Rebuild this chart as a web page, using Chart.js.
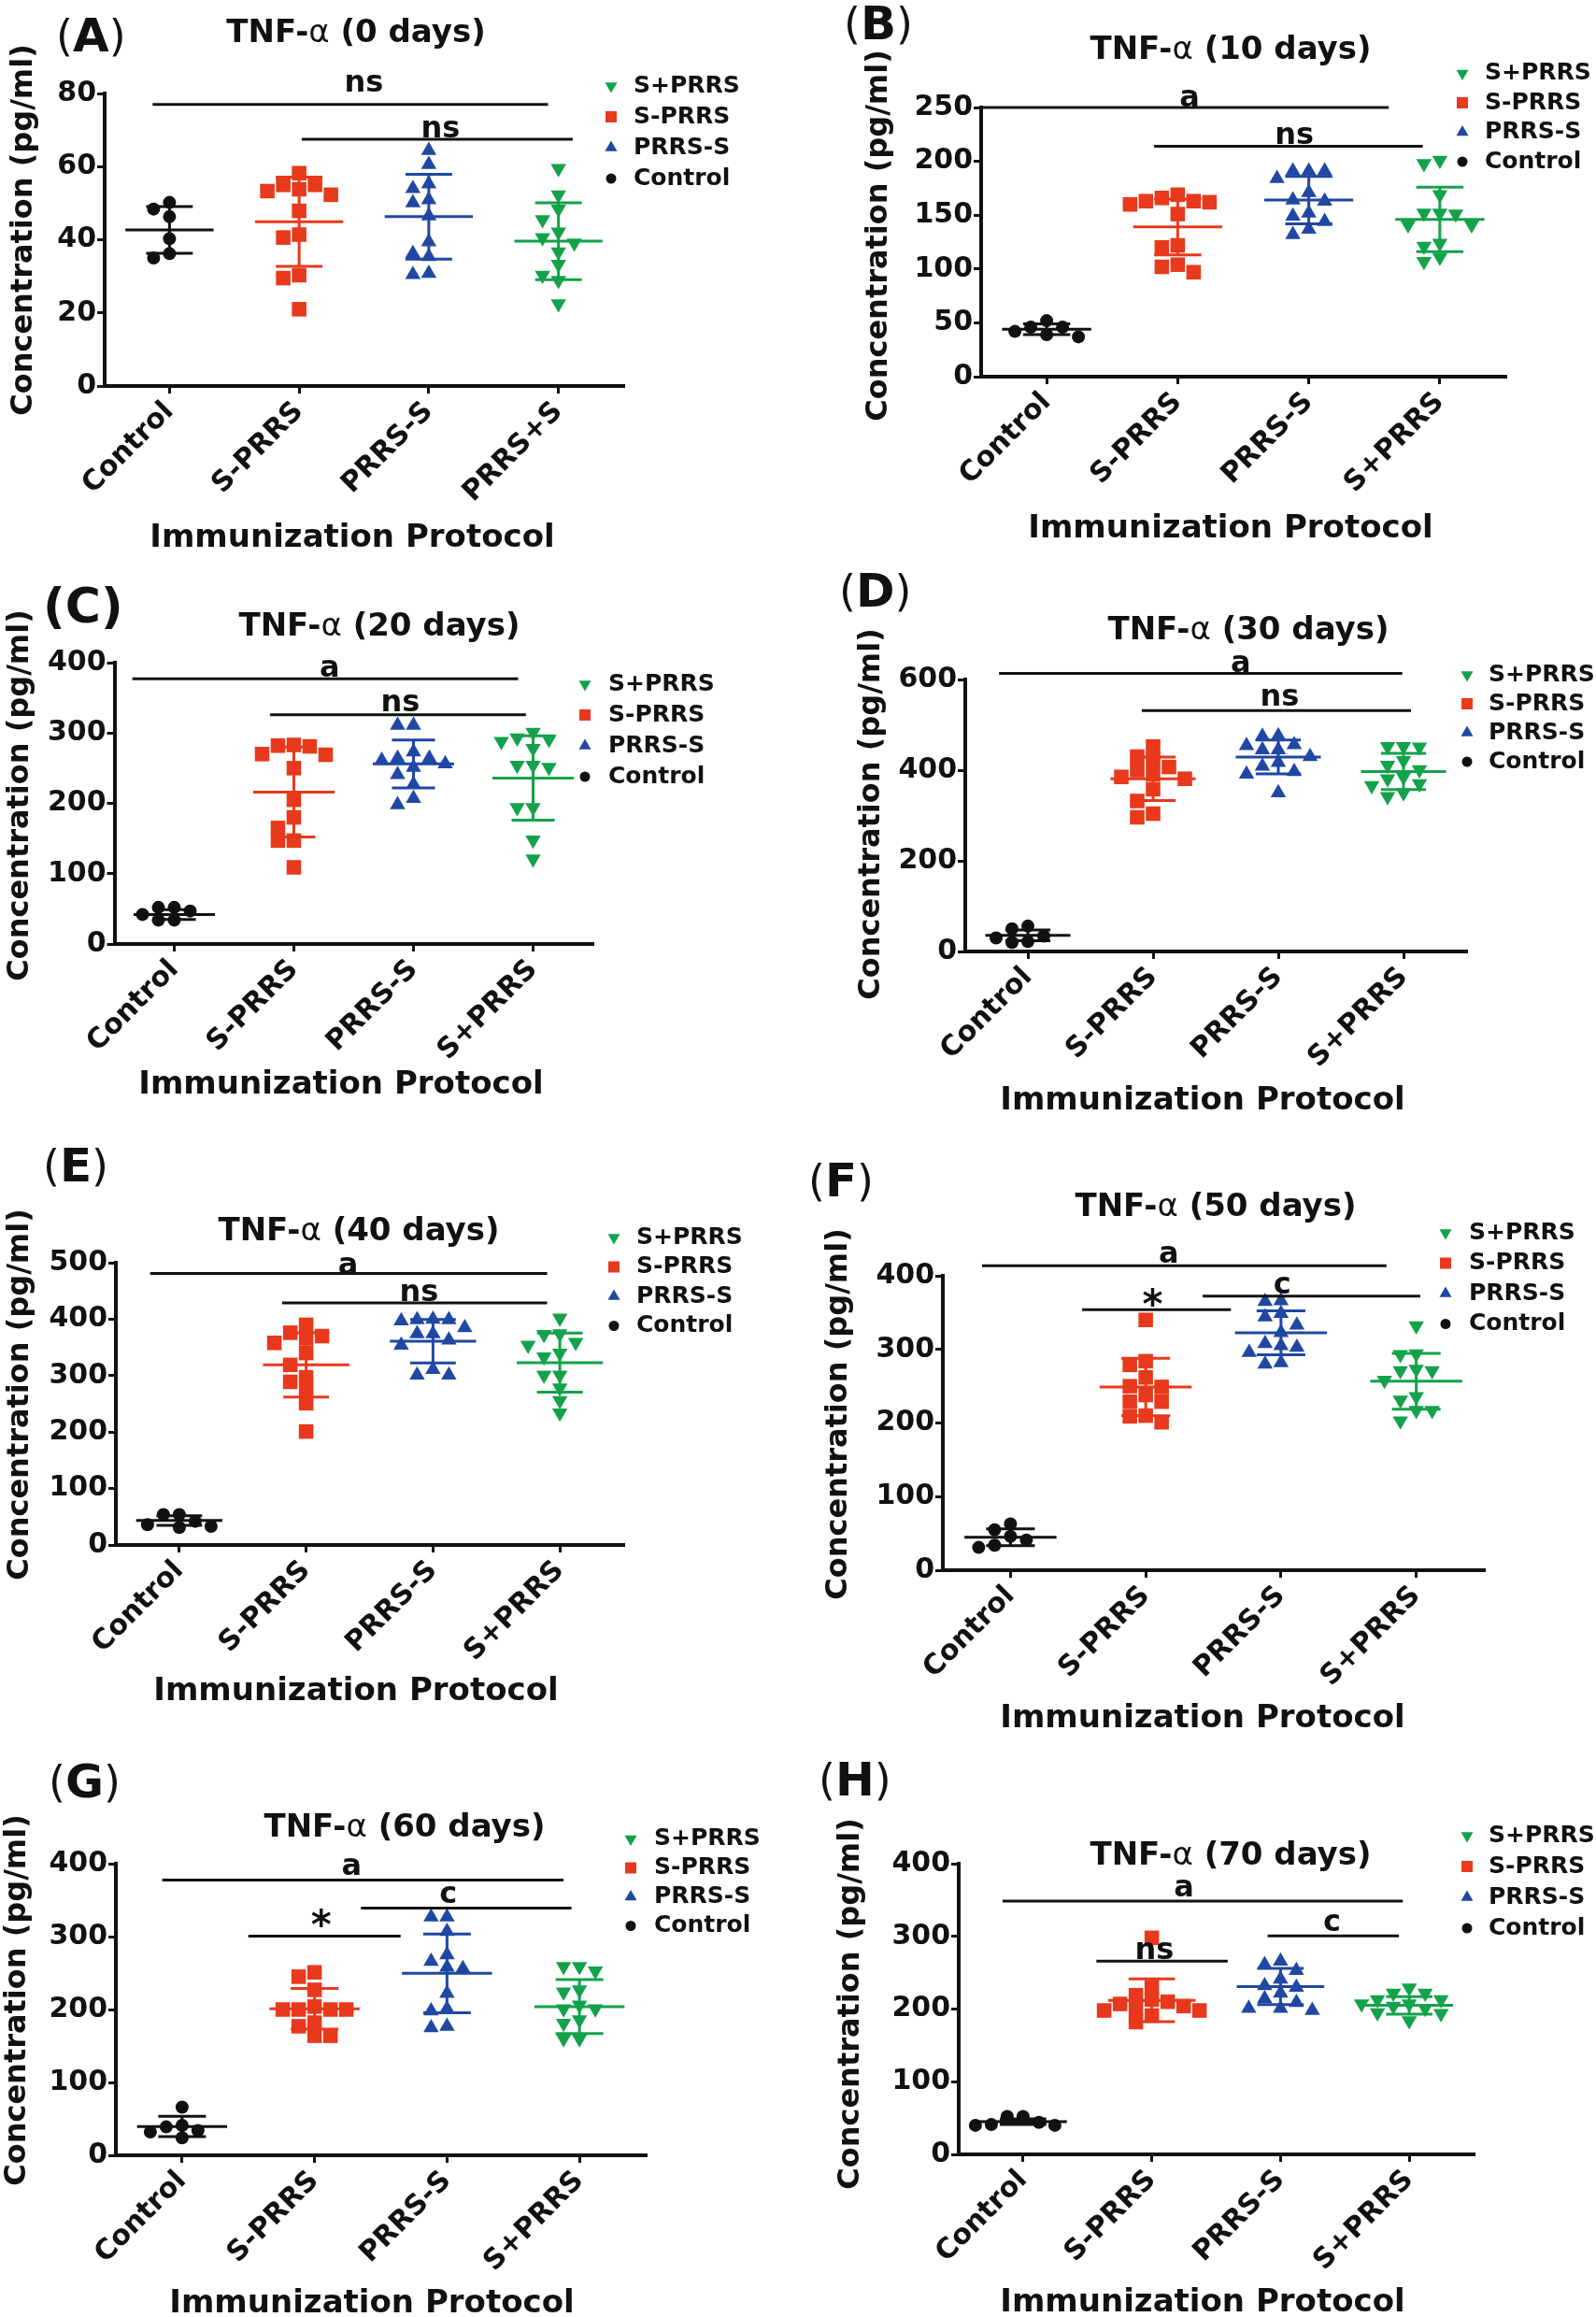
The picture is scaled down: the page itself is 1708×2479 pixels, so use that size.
<!DOCTYPE html>
<html><head><meta charset="utf-8">
<script src="https://cdn.jsdelivr.net/npm/chart.js@4.4.1/dist/chart.umd.min.js"></script>
<style>
html,body{margin:0;padding:0;background:#fff;}
#page{position:relative;width:1708px;height:2479px;overflow:hidden;background:#fff;}
canvas{position:absolute;}
</style></head><body><div id="page"></div>
<script>
// ---------------- DATA ----------------
const groups = ['Control', 'S-PRRS', 'PRRS-S', 'S+PRRS'];
const xLabelsA = ['Control', 'S-PRRS', 'PRRS-S', 'PRRS+S'];
const xLabels = ['Control', 'S-PRRS', 'PRRS-S', 'S+PRRS'];
const legendOrder = [3, 1, 2, 0];
const days = [0, 10, 20, 30, 40, 50, 60, 70];
const letters = ['A', 'B', 'C', 'D', 'E', 'F', 'G', 'H'];
const yMaxes = [80, 250, 400, 600, 500, 400, 400, 400];
const ySteps = [20, 50, 100, 200, 100, 100, 100, 100];

const day0_control = [50.2, 48.4, 46.3, 40.3, 36.2, 35.0];
const day0_sPRRS = [58.2, 55.0, 55.0, 53.8, 53.3, 52.3, 47.9, 41.4, 40.6, 30.3, 29.5, 21.0];
const day0_PRRSs = [64.4, 60.6, 55.3, 54.0, 50.9, 50.1, 46.5, 39.4, 36.2, 35.4, 30.8, 30.5];
const day0_sPlusPRRS = [59.5, 52.3, 48.4, 45.5, 42.1, 40.6, 39.1, 36.7, 33.3, 30.3, 28.9, 22.5];
const day0_mean = [42.7, 44.9, 46.3, 39.6];
const day0_sd = [6.4, 12.2, 11.6, 10.5];

const day10_control = [46, 52, 46, 39, 37, 42];
const day10_sPRRS = [169, 166, 163, 163, 162, 160, 151, 122, 120, 104, 102, 97];
const day10_PRRSs = [191, 191, 191, 184, 171, 164, 163, 152, 149, 144, 137, 132];
const day10_sPlusPRRS = [201, 198, 169, 152, 152, 151, 141, 141, 124, 121, 111, 107];
const day10_mean = [44, 139, 164, 146];
const day10_sd = [5, 26, 22, 30];

const day20_control = [52, 52, 47, 42, 34, 34];
const day20_sPRRS = [283, 282, 281, 270, 269, 250, 205, 180, 165, 147, 147, 109];
const day20_PRRSs = [311, 311, 273, 264, 264, 261, 256, 251, 241, 227, 207, 198];
const day20_sPlusPRRS = [301, 293, 291, 288, 278, 254, 254, 251, 194, 194, 148, 121];
const day20_mean = [42, 216, 256, 236];
const day20_sd = [7, 64, 34, 60];

const day30_control = [56, 50, 34, 30, 22, 20];
const day30_sPRRS = [452, 430, 422, 407, 400, 391, 385, 381, 358, 332, 304, 296];
const day30_PRRSs = [476, 475, 456, 454, 445, 445, 430, 417, 409, 397, 391, 350];
const day30_sPlusPRRS = [452, 452, 451, 421, 411, 401, 385, 381, 370, 366, 350, 342];
const day30_mean = [35.5, 381, 429, 397];
const day30_sd = [12, 48, 37.5, 40];

const day40_control = [54, 54, 42, 36, 33, 31];
const day40_sPRRS = [390, 376, 370, 366, 358, 340, 319, 297, 289, 273, 251, 201];
const day40_PRRSs = [400, 399, 399, 397, 385, 374, 374, 363, 354, 311, 301, 301];
const day40_sPlusPRRS = [402, 374, 373, 359, 354, 340, 333, 301, 301, 278, 256, 234];
const day40_mean = [43.3, 319, 361, 323];
const day40_sd = [8.6, 57, 38.5, 52.5];

const day50_control = [63, 55, 46, 41, 34, 31];
const day50_sPRRS = [340, 284, 279, 262, 250, 249, 238, 229, 229, 210, 209, 201];
const day50_PRRSs = [366, 365, 349, 344, 333, 323, 308, 305, 303, 296, 282, 280];
const day50_sPlusPRRS = [332, 294, 293, 273, 271, 271, 258, 236, 231, 217, 217, 203];
const day50_mean = [44.8, 249, 322.5, 256.7];
const day50_sd = [11.4, 39, 29.8, 38];

const day60_control = [66, 41, 39, 34, 32, 24];
const day60_sPRRS = [251, 245, 227, 204, 200, 200, 200, 200, 182, 177, 164, 164];
const day60_PRRSs = [327, 327, 307, 275, 266, 258, 256, 222, 201, 198, 177, 175];
const day60_sPlusPRRS = [259, 259, 253, 227, 224, 206, 201, 201, 186, 181, 160, 160];
const day60_mean = [39.5, 201, 249.6, 204];
const day60_sd = [14, 28, 54, 37];

const day70_control = [52, 52, 44, 41, 40, 40];
const day70_sPRRS = [298, 230, 219, 213, 210, 207, 204, 200, 198, 198, 191, 182];
const day70_PRRSs = [266, 261, 253, 241, 232, 230, 222, 214, 209, 201, 201, 198];
const day70_sPlusPRRS = [229, 222, 222, 213, 213, 207, 207, 204, 201, 195, 194, 184];
const day70_mean = [45, 212, 231, 205];
const day70_sd = [4, 29.5, 25, 12];

// significance bars: y value, start/end (category index units), text
const sigA = [{y: 77, x1: -0.13, x2: 2.92, tx: 1.50, t: 'ns', gap: 12}, {y: 67.5, x1: 1.02, x2: 3.11, tx: 2.09, t: 'ns', gap: 0}];
const sigB = [{y: 250, x1: -0.5, x2: 2.61, tx: 1.09, t: 'a', gap: 0}, {y: 214, x1: 0.82, x2: 2.87, tx: 1.89, t: 'ns', gap: 1}];
const sigC = [{y: 377, x1: -0.35, x2: 2.875, tx: 1.30, t: 'a', gap: 1}, {y: 326, x1: 0.80, x2: 2.94, tx: 1.89, t: 'ns', gap: 2}];
const sigD = [{y: 613.6, x1: -0.23, x2: 2.99, tx: 1.70, t: 'a', gap: 0}, {y: 531.7, x1: 0.91, x2: 3.06, tx: 2.01, t: 'ns', gap: 4}];
const sigE = [{y: 481, x1: -0.23, x2: 2.90, tx: 1.33, t: 'a', gap: -2}, {y: 429, x1: 0.81, x2: 2.90, tx: 1.89, t: 'ns', gap: 0}];
const sigF = [{y: 413.6, x1: -0.21, x2: 2.78, tx: 1.17, t: 'a', gap: 2}, {y: 354, x1: 0.53, x2: 1.63, tx: 1.05, t: '*', gap: 2}, {y: 372.4, x1: 1.42, x2: 3.03, tx: 2.01, t: 'c', gap: 1}];
const sigG = [{y: 377.6, x1: -0.15, x2: 2.88, tx: 1.28, t: 'a', gap: 4}, {y: 300.6, x1: 0.50, x2: 1.65, tx: 1.05, t: '*', gap: 8}, {y: 339, x1: 1.35, x2: 2.94, tx: 2.01, t: 'c', gap: 4}];
const sigH = [{y: 348.5, x1: -0.16, x2: 2.95, tx: 1.25, t: 'a', gap: 4}, {y: 266, x1: 0.57, x2: 1.59, tx: 1.02, t: 'ns', gap: 1}, {y: 300.5, x1: 1.90, x2: 2.92, tx: 2.40, t: 'c', gap: 4}];

// ---------------- STYLE / LAYOUT ----------------
const COLORS = ['#111111', '#e8391c', '#1f47a3', '#13a24b'];
const POINT_STYLE = ['circle', 'rect', 'triangle', 'triangle'];
const POINT_ROT = [0, 0, 0, 180];
const POINT_R = [7, 11, 9.5, 9.5];
const FONT = '"DejaVu Sans", "Liberation Sans", sans-serif';
Chart.defaults.font.family = FONT;

const layouts = [
  {cx: 0, cy: 0, cw: 854, ch: 600, l: 112, r: 667, t: 100, b: 413, title: [381, 36], label: [60, 42], yTitle: [26, 246], xTitle: [377, 576], legend: [654, 678, 92, 33]},
  {cx: 854, cy: 0, cw: 854, ch: 600, l: 1050, r: 1611, t: 115, b: 403, title: [1317, 54], label: [903, 29], yTitle: [941, 252], xTitle: [1317, 566], legend: [1565, 1589, 78.5, 31.5]},
  {cx: 0, cy: 600, cw: 854, ch: 600, l: 122.5, r: 634.5, t: 709, b: 1010, title: [406, 671], label: [46, 652], yTitle: [22, 851], xTitle: [365, 1161], legend: [626, 651, 732, 33], boldParens: true},
  {cx: 854, cy: 600, cw: 854, ch: 600, l: 1033, r: 1569, t: 727, b: 1018, title: [1336, 675], label: [898, 636], yTitle: [933, 871], xTitle: [1287, 1178], legend: [1570, 1593, 722, 31]},
  {cx: 0, cy: 1200, cw: 854, ch: 650, l: 124, r: 667, t: 1351, b: 1653, title: [384, 1318], label: [46, 1251], yTitle: [22, 1492], xTitle: [381, 1810], legend: [657, 681, 1324, 31.5]},
  {cx: 854, cy: 1200, cw: 854, ch: 670, l: 1009, r: 1588, t: 1365, b: 1680, title: [1301, 1292], label: [865, 1267], yTitle: [898, 1513], xTitle: [1287, 1839], legend: [1547, 1572, 1319, 32.5]},
  {cx: 0, cy: 1850, cw: 854, ch: 629, l: 124, r: 691, t: 1994, b: 2306, title: [433, 1956], label: [52, 1910], yTitle: [19, 2140], xTitle: [398, 2465], legend: [675, 700, 1967.5, 31]},
  {cx: 854, cy: 1850, cw: 854, ch: 629, l: 1026, r: 1577, t: 1994, b: 2305, title: [1317, 1986], label: [876, 1908], yTitle: [911, 2144], xTitle: [1287, 2464], legend: [1570, 1593, 1964, 33]}
];

const panels = [
  {values: [day0_control, day0_sPRRS, day0_PRRSs, day0_sPlusPRRS], mean: day0_mean, sd: day0_sd, sig: sigA, xl: xLabelsA},
  {values: [day10_control, day10_sPRRS, day10_PRRSs, day10_sPlusPRRS], mean: day10_mean, sd: day10_sd, sig: sigB, xl: xLabels},
  {values: [day20_control, day20_sPRRS, day20_PRRSs, day20_sPlusPRRS], mean: day20_mean, sd: day20_sd, sig: sigC, xl: xLabels},
  {values: [day30_control, day30_sPRRS, day30_PRRSs, day30_sPlusPRRS], mean: day30_mean, sd: day30_sd, sig: sigD, xl: xLabels},
  {values: [day40_control, day40_sPRRS, day40_PRRSs, day40_sPlusPRRS], mean: day40_mean, sd: day40_sd, sig: sigE, xl: xLabels},
  {values: [day50_control, day50_sPRRS, day50_PRRSs, day50_sPlusPRRS], mean: day50_mean, sd: day50_sd, sig: sigF, xl: xLabels},
  {values: [day60_control, day60_sPRRS, day60_PRRSs, day60_sPlusPRRS], mean: day60_mean, sd: day60_sd, sig: sigG, xl: xLabels},
  {values: [day70_control, day70_sPRRS, day70_PRRSs, day70_sPlusPRRS], mean: day70_mean, sd: day70_sd, sig: sigH, xl: xLabels}
];

// column-scatter spreading (like GraphPad): points that overlap vertically are moved sideways
function swarmOffsets(values, pxPerUnit, stepIdx) {
  const order = values.map((v, i) => i).sort((a, b) => values[b] - values[a]);
  const placed = [];
  const off = new Array(values.length).fill(0);
  for (const i of order) {
    const y = values[i] * pxPerUnit;
    for (let k = 0; k < 15; k++) {
      const slot = k === 0 ? 0 : (k % 2 === 1 ? -(k + 1) / 2 : k / 2);
      if (!placed.some(p => p.s === slot && Math.abs(p.y - y) < 13)) {
        placed.push({s: slot, y});
        off[i] = slot * stepIdx;
        break;
      }
    }
  }
  return off;
}

function marker(ctx, style, x, y, r, rot, color) {
  ctx.fillStyle = color;
  ctx.beginPath();
  if (style === 'circle') ctx.arc(x, y, r, 0, Math.PI * 2);
  else if (style === 'rect') ctx.rect(x - r, y - r, 2 * r, 2 * r);
  else {
    const d = rot ? 1 : -1;
    ctx.moveTo(x, y + d * r);
    ctx.lineTo(x - r * 0.87, y - d * r * 0.5);
    ctx.lineTo(x + r * 0.87, y - d * r * 0.5);
    ctx.closePath();
  }
  ctx.fill();
}

function drawSegments(ctx, parts, cx, y) {
  let total = 0;
  const widths = parts.map(p => { ctx.font = p[1]; const w = ctx.measureText(p[0]).width; total += w; return w; });
  let x = cx - total / 2;
  ctx.textAlign = 'left';
  ctx.textBaseline = 'middle';
  parts.forEach((p, i) => { ctx.font = p[1]; ctx.fillText(p[0], x, y); x += widths[i]; });
}

function makeDecor(idx) {
  const L = layouts[idx], P = panels[idx];
  const X = v => v - L.cx, Y = v => v - L.cy;
  return {
    id: 'decor' + idx,
    afterDatasetsDraw(chart) {
      const ctx = chart.ctx, xs = chart.scales.x, ys = chart.scales.y;
      const cat = xs.getPixelForValue(1) - xs.getPixelForValue(0);
      ctx.save();
      ctx.lineWidth = 3;
      ctx.lineCap = 'butt';
      for (let i = 0; i < 4; i++) {
        const cx = xs.getPixelForValue(i);
        const ym = ys.getPixelForValue(P.mean[i]);
        const yh = ys.getPixelForValue(P.mean[i] + P.sd[i]);
        const yl = ys.getPixelForValue(P.mean[i] - P.sd[i]);
        ctx.strokeStyle = COLORS[i];
        ctx.beginPath();
        ctx.moveTo(cx - 0.34 * cat, ym); ctx.lineTo(cx + 0.34 * cat, ym);
        ctx.moveTo(cx, yh); ctx.lineTo(cx, yl);
        ctx.moveTo(cx - 0.18 * cat, yh); ctx.lineTo(cx + 0.18 * cat, yh);
        ctx.moveTo(cx - 0.18 * cat, yl); ctx.lineTo(cx + 0.18 * cat, yl);
        ctx.stroke();
      }
      ctx.restore();
    },
    afterDraw(chart) {
      const ctx = chart.ctx, xs = chart.scales.x, ys = chart.scales.y;
      ctx.save();
      ctx.fillStyle = '#111';
      ctx.strokeStyle = '#111';
      // significance bars
      ctx.lineWidth = 3;
      P.sig.forEach(s => {
        const yy = ys.getPixelForValue(s.y);
        ctx.beginPath();
        ctx.moveTo(xs.getPixelForValue(s.x1), yy);
        ctx.lineTo(xs.getPixelForValue(s.x2), yy);
        ctx.stroke();
        const size = s.t === '*' ? 42 : 32;
        ctx.font = `bold ${size}px ${FONT}`;
        ctx.textAlign = 'center';
        ctx.textBaseline = 'alphabetic';
        const m = ctx.measureText(s.t);
        const base = yy - 1.5 - s.gap - m.actualBoundingBoxDescent;
        ctx.fillText(s.t, xs.getPixelForValue(s.tx), base);
      });
      // title
      drawSegments(ctx, [['TNF-', `bold 34px ${FONT}`], ['α', `normal 34px ${FONT}`], [` (${days[idx]} days)`, `bold 34px ${FONT}`]], X(L.title[0]), Y(L.title[1]));
      // panel label
      {
        const pf = L.boldParens ? `bold 52px ${FONT}` : `normal 46px ${FONT}`;
        const lf = L.boldParens ? `bold 52px ${FONT}` : `bold 50px ${FONT}`;
        const parts = [['(', pf], [letters[idx], lf], [')', pf]];
        let w = 0; parts.forEach(p => { ctx.font = p[1]; w += ctx.measureText(p[0]).width; });
        drawSegments(ctx, parts, X(L.label[0]) + w / 2, Y(L.label[1]));
      }
      // axis titles
      ctx.font = `bold 32px ${FONT}`;
      ctx.textAlign = 'center';
      ctx.textBaseline = 'middle';
      ctx.save();
      ctx.translate(X(L.yTitle[0]), Y(L.yTitle[1]));
      ctx.rotate(-Math.PI / 2);
      ctx.fillText('Concentration (pg/ml)', 0, 0);
      ctx.restore();
      ctx.font = `bold 34px ${FONT}`;
      ctx.fillText('Immunization Protocol', X(L.xTitle[0]), Y(L.xTitle[1]));
      // legend
      const [mx, tx, y0, dy] = L.legend;
      ctx.font = `bold 25px ${FONT}`;
      ctx.textAlign = 'left';
      legendOrder.forEach((gi, k) => {
        const yy = Y(y0 + k * dy);
        const st = POINT_STYLE[gi];
        const r = st === 'circle' ? 5.5 : (st === 'rect' ? 6 : 7.5);
        marker(ctx, st, X(mx), yy, r, POINT_ROT[gi], COLORS[gi]);
        ctx.fillStyle = '#111';
        ctx.fillText(chart.data.datasets[gi].label, X(tx), yy);
      });
      ctx.restore();
    }
  };
}

const page = document.getElementById('page');
panels.forEach((P, idx) => {
  const L = layouts[idx];
  const cv = document.createElement('canvas');
  cv.width = L.cw; cv.height = L.ch;
  cv.style.left = L.cx + 'px'; cv.style.top = L.cy + 'px';
  cv.style.width = L.cw + 'px'; cv.style.height = L.ch + 'px';
  page.appendChild(cv);
  const yMax = yMaxes[idx];
  const pxPerUnit = (L.b - L.t) / yMax;
  const catPx = (L.r - L.l) / 4;
  const stepIdx = 17 / catPx;
  const datasets = P.values.map((vals, gi) => {
    const off = swarmOffsets(vals, pxPerUnit, stepIdx);
    return {
      label: groups[gi],
      data: vals.map((v, j) => ({x: gi + off[j], y: v})),
      pointStyle: POINT_STYLE[gi],
      pointRotation: POINT_ROT[gi],
      pointRadius: POINT_R[gi],
      backgroundColor: COLORS[gi],
      borderColor: COLORS[gi],
      borderWidth: 0,
      clip: false
    };
  });
  const axisCommon = {
    grid: {display: true, drawOnChartArea: false, drawTicks: true, tickLength: 8, lineWidth: 3, color: '#111'},
    border: {display: true, width: 4, color: '#111'}
  };
  new Chart(cv, {
    type: 'scatter',
    data: {datasets},
    options: {
      responsive: false,
      animation: false,
      events: [],
      layout: {padding: {left: 0, top: L.t - L.cy, right: L.cx + L.cw - L.r, bottom: 0}},
      plugins: {legend: {display: false}, tooltip: {enabled: false}, title: {display: false}},
      scales: {
        x: Object.assign({
          type: 'linear', min: -0.5, max: 3.5,
          afterBuildTicks: s => { s.ticks = [0, 1, 2, 3].map(v => ({value: v})); },
          afterFit: s => { s.height = L.cy + L.ch - L.b; },
          ticks: {
            autoSkip: false, minRotation: 45, maxRotation: 45, padding: 2,
            callback: v => P.xl[v],
            font: {family: FONT, size: 30, weight: 'bold'}, color: '#111'
          }
        }, axisCommon),
        y: Object.assign({
          type: 'linear', min: 0, max: yMax,
          afterFit: s => { s.width = L.l - L.cx; },
          ticks: {stepSize: ySteps[idx], padding: 1, font: {family: FONT, size: 30, weight: 'bold'}, color: '#111'}
        }, axisCommon)
      }
    },
    plugins: [makeDecor(idx)]
  });
});
</script>
</body></html>
